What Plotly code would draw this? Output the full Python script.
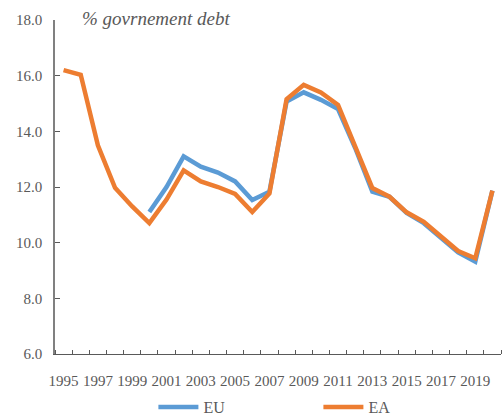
import plotly.graph_objects as go

years = list(range(1995, 2021))
ea = [16.2, 16.03, 13.5, 11.97, 11.3, 10.7, 11.55, 12.6, 12.2, 12.0, 11.75, 11.1, 11.77,
      15.15, 15.67, 15.4, 14.95, 13.5, 11.96, 11.65, 11.09, 10.75, 10.25, 9.7, 9.44, 11.87]
eu = [None, None, None, None, None, 11.1, 12.0, 13.1, 12.73, 12.52, 12.2, 11.53, 11.83,
      15.07, 15.4, 15.13, 14.8, 13.4, 11.83, 11.65, 11.07, 10.7, 10.2, 9.65, 9.32, 11.87]
x_tick_labels = [str(y) for y in range(1995, 2020, 2)]
y_tick_vals = [6, 8, 10, 12, 14, 16, 18]
y_tick_labels = ["6.0", "8.0", "10.0", "12.0", "14.0", "16.0", "18.0"]

fig = go.Figure()
fig.add_trace(go.Scatter(x=years, y=eu, mode="lines", name="EU",
                         line=dict(color="#5B9BD5", width=4.5), connectgaps=False))
fig.add_trace(go.Scatter(x=years, y=ea, mode="lines", name="EA",
                         line=dict(color="#ED7D31", width=4.5)))

font_family = "Liberation Serif, Times New Roman, DejaVu Serif, serif"
fig.update_layout(
    width=503, height=416,
    margin=dict(l=55, r=2, t=20, b=62, autoexpand=False),
    plot_bgcolor="white", paper_bgcolor="white",
    font=dict(family=font_family, size=15, color="#595959"),
    showlegend=True,
    legend=dict(orientation="h", x=0.633, xanchor="center", xref="container",
                y=9 / 416, yanchor="middle", yref="container",
                font=dict(family=font_family, size=16, color="#595959"),
                itemwidth=40, entrywidth=110, bgcolor="rgba(0,0,0,0)"),
    xaxis=dict(range=[1994.5, 2020.5], tickmode="array", automargin=False,
               tickvals=[int(t) for t in x_tick_labels], ticktext=x_tick_labels,
               ticks="", showgrid=False, zeroline=False,
               showline=True, linecolor="#595959", linewidth=1,
               ticklabelstandoff=13,
               minor=dict(tickmode="array", tickvals=[y + 0.5 for y in range(1994, 2021)],
                          ticks="inside", ticklen=4, tickcolor="#595959", showgrid=False),
               tickfont=dict(family=font_family, size=15, color="#595959")),
    yaxis=dict(range=[6, 18], tickmode="array", tickvals=y_tick_vals, ticktext=y_tick_labels,
               ticks="inside", ticklen=5, tickcolor="#595959", automargin=False,
               showgrid=False, zeroline=False,
               showline=True, linecolor="#808080", linewidth=1.5,
               ticklabelstandoff=8,
               tickfont=dict(family=font_family, size=15, color="#595959")),
)
fig.add_annotation(text="<i>% govrnement debt</i>", xref="paper", yref="paper",
                   x=(80 - 55) / 446, y=1.0, xanchor="left", yanchor="middle",
                   yshift=2, showarrow=False,
                   font=dict(family=font_family, size=19, color="#595959"))

fig.write_html("out.html", config={"displayModeBar": False},
               post_script="document.body.style.margin='0';document.body.style.padding='0';")
